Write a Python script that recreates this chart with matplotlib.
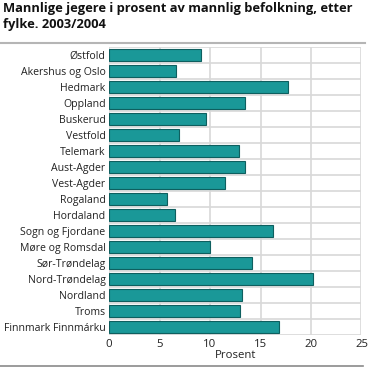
import matplotlib
matplotlib.use("Agg")
import matplotlib.pyplot as plt
import numpy as np

categories = ["Østfold", "Akershus og Oslo", "Hedmark", "Oppland", "Buskerud",
              "Vestfold", "Telemark", "Aust-Agder", "Vest-Agder", "Rogaland",
              "Hordaland", "Sogn og Fjordane", "Møre og Romsdal", "Sør-Trøndelag",
              "Nord-Trøndelag", "Nordland", "Troms", "Finnmark Finnmárku"]
values = [9.1, 6.6, 17.7, 13.5, 9.6, 6.9, 12.9, 13.5, 11.5, 5.7,
          6.5, 16.2, 10.0, 14.2, 20.2, 13.2, 13.0, 16.8]
xticks = [0, 5, 10, 15, 20, 25]
title = "Mannlige jegere i prosent av mannlig befolkning, etter\nfylke. 2003/2004"
xlabel = "Prosent"

plt.rcParams['font.family'] = ['Open Sans', 'DejaVu Sans']

fig = plt.figure(figsize=(3.68, 3.67), dpi=100)
ax = fig.add_axes([109/368, 1-334.7/367, (361.5-109)/368, (334.7-46.7)/367])

n = len(categories)
y = np.arange(n)
ax.barh(y, values, height=0.74, color="#1a9898", edgecolor="#0e5f5f", linewidth=0.8, zorder=3)
ax.set_ylim(n - 0.5, -0.5)
ax.set_xlim(0, 25)
ax.set_yticks(y)
ax.set_yticklabels(categories, fontsize=7.55, color="#222222")
ax.set_yticks(np.arange(n + 1) - 0.5, minor=True)
ax.set_xticks(xticks)
ax.set_xticklabels([str(t) for t in xticks], fontsize=8.2, color="#222222")
ax.tick_params(axis='both', which='both', length=0, pad=3)
ax.tick_params(axis='y', which='major', pad=2.5)
ax.grid(axis='x', which='major', color="#d8d8d8", linewidth=1.2, zorder=0)
ax.grid(axis='y', which='minor', color="#d8d8d8", linewidth=1.2, zorder=0)
for s in ax.spines.values():
    s.set_visible(False)
ax.set_xlabel(xlabel, fontsize=8.2, color="#222222", labelpad=0)

fig.text(3/368, 1-2/367, title, fontsize=9.3, fontweight='bold', va='top', ha='left',
         color="#111111", linespacing=1.32)
fig.add_artist(plt.Line2D([0, 365/368], [1-42.5/367, 1-42.5/367], color="#b5b5b5", linewidth=1.5))
fig.add_artist(plt.Line2D([0, 363/368], [1-365.5/367, 1-365.5/367], color="#8a8a8a", linewidth=1.2))

fig.savefig("out.png", dpi=100)
